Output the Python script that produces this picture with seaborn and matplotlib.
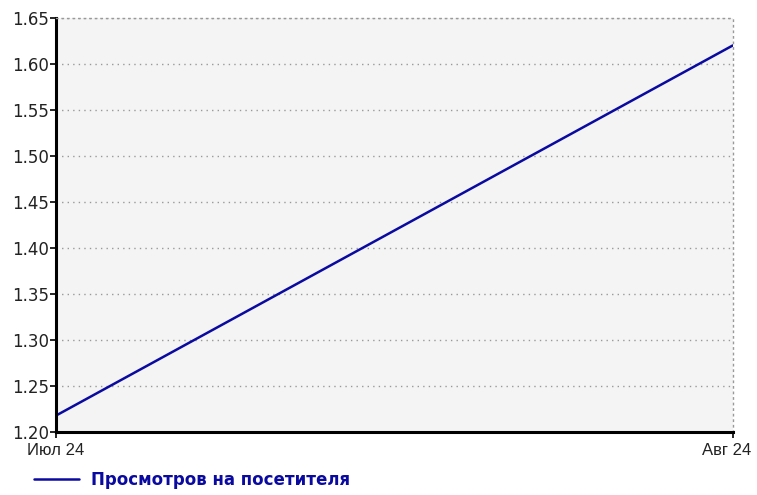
import pandas as pd
import numpy as np
import matplotlib
matplotlib.use("Agg")
import matplotlib.pyplot as plt
import seaborn as sns
from matplotlib.transforms import ScaledTranslation

months = ["Июл 24", "Авг 24"]
views_per_visitor = [1.218, 1.62]
series_name = "Просмотров на посетителя"

y_ticks = [1.20, 1.25, 1.30, 1.35, 1.40, 1.45, 1.50, 1.55, 1.60, 1.65]

sns.set_style("white")
plt.rcParams["font.family"] = ["DejaVu Sans"]

df = pd.DataFrame({"month": range(len(months)), "value": views_per_visitor})

fig = plt.figure(figsize=(7.57, 4.95), dpi=100)
ax = fig.add_axes([0.074, 0.127, 0.894, 0.837])
ax.set_facecolor("#f4f4f4")

sns.lineplot(data=df, x="month", y="value", color="#0a0aa0", linewidth=1.8,
             ax=ax, label=series_name, legend=False)

ax.set_xlim(0, len(months) - 1)
ax.set_ylim(1.20, 1.65)
ax.set_xticks(range(len(months)))
ax.set_xticklabels(months, fontfamily="Liberation Sans", fontsize=12)
ax.set_yticks(y_ticks)
ax.set_yticklabels([f"{v:.2f}" for v in y_ticks])
ax.set_xlabel("")
ax.set_ylabel("")

ax.grid(axis="y", color="#999999", linestyle=(0, (1, 3)), linewidth=1)
ax.set_axisbelow(True)

for side in ["left", "bottom"]:
    ax.spines[side].set_color("black")
    ax.spines[side].set_linewidth(2.2)
for side in ["top", "right"]:
    ax.spines[side].set_color("#999999")
    ax.spines[side].set_linestyle((0, (1, 3)))
    ax.spines[side].set_linewidth(1)

ax.tick_params(axis="y", direction="out", length=4, width=1.2, color="black",
               labelsize=12, labelcolor="#222222", pad=1, left=True)
ax.tick_params(axis="x", direction="out", length=4, width=1.2, color="black",
               labelcolor="#222222", pad=4, bottom=True)

# nudge the last month label so it stays inside the figure
last = ax.get_xticklabels()[-1]
last.set_transform(last.get_transform() + ScaledTranslation(-6 / 100, 0, fig.dpi_scale_trans))

leg = fig.legend(loc="lower left", bbox_to_anchor=(0.025, -0.018), frameon=False,
                 handlelength=2.7, handletextpad=0.7, fontsize=12)
for t in leg.get_texts():
    t.set_color("#0a0aa0")
    t.set_fontweight("bold")

fig.savefig("out.png", dpi=100)
